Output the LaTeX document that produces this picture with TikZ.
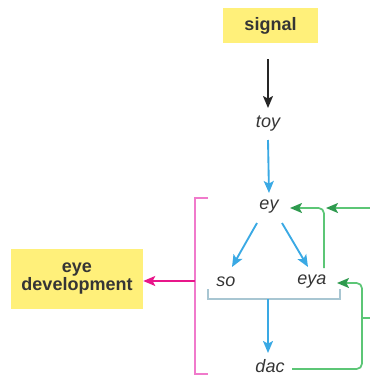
\documentclass[tikz,border=0pt]{standalone}
\usepackage{fontspec}
\setmainfont{Liberation Sans}
\usetikzlibrary{arrows.meta}
\definecolor{boxyellow}{HTML}{FFF07A}
\definecolor{txtgrey}{HTML}{353535}
\definecolor{flowblue}{HTML}{3AA9E4}
\definecolor{linegreen}{HTML}{5CC676}
\definecolor{tipgreen}{HTML}{2E9A4E}
\definecolor{magentaarrow}{HTML}{E8168A}
\definecolor{pinkbracket}{HTML}{F07ACB}
\definecolor{greybracket}{HTML}{A8C6D2}
\tikzset{
  labelbox/.style={fill=boxyellow, text=txtgrey, font=\bfseries\fontsize{13.5}{13.5}\selectfont, align=center, inner sep=0pt},
  gene/.style={text=txtgrey, font=\itshape\fontsize{13.5}{14}\selectfont, inner sep=2pt},
  tipshape/.style={-{Stealth[length=9pt,width=7.5pt,inset=2pt]}},
  blackflow/.style={tipshape, line width=1.2pt, black!85},
  blueflow/.style={tipshape, line width=1.4pt, flowblue},
  greenflow/.style={-{Stealth[length=9pt,width=7.5pt,inset=2pt,color=tipgreen]}, line width=1.3pt, linegreen, rounded corners=4pt},
  magentaflow/.style={tipshape, line width=1.4pt, magentaarrow},
}
\begin{document}
\begin{tikzpicture}[x=0.75pt,y=-0.75pt]
\useasboundingbox (0,0) rectangle (370,375);

% boxes
\node[labelbox, minimum width=71pt, minimum height=26pt] (signal) at (270.5,25.5) {signal};
\node[labelbox, minimum width=99pt, minimum height=45pt] (eyedev) at (77,279) {eye\\development};

% genes
\node[gene] (toy) at (268,124) {toy};
\node[gene] (ey)  at (269,207) {ey};
\node[gene] (so)  at (226,282) {so};
\node[gene] (eya) at (312,282) {eya};
\node[gene] (dac) at (270,366) {dac};

% bracket grouping so and eya
\coordinate (gL) at (208,289);
\coordinate (gR) at (340,289);
\coordinate (gmid) at (268,299);
\draw[greybracket, line width=0.9pt] (gL) |- (gmid) -| (gR);

% bracket of the eye-development genes
\coordinate (pTop) at (208,198);
\coordinate (pBot) at (208,374);
\coordinate (pMid) at (195,281);
\draw[pinkbracket, line width=1.1pt] (pTop) -- (195,198) -- (195,374) -- (pBot);

% cascade
\draw[blackflow, shorten <=12pt] (signal.south -| toy) -- ([shift={(0,-16)}]toy.center);
\draw[blueflow] ([shift={(0,16)}]toy.center) -- ([shift={(0,-14)}]ey.center);
\draw[blueflow] ([shift={(-12,16)}]ey.center) -- ([shift={(6,-15)}]so.center);
\draw[blueflow] ([shift={(13,16)}]ey.center) -- ([shift={(-4,-15)}]eya.center);
\draw[blueflow] (gmid) -- ([shift={(-2,-13)}]dac.center);
\draw[magentaflow] (pMid) -- (eyedev.east |- pMid);

% feedback loops
\coordinate (inTop) at (370,208);
\coordinate (inMid) at (370,318);
\draw[greenflow] ([shift={(12,-14)}]eya.center) |- ([shift={(21,1)}]ey.center);
\draw[greenflow] (inTop) -- (326,208);
\draw[greenflow] ([shift={(22,3)}]dac.center) -| (362,283) -- ([shift={(25,1)}]eya.center);
\draw[linegreen, line width=1.3pt] (inMid) -- (362,318);
\end{tikzpicture}
\end{document}
